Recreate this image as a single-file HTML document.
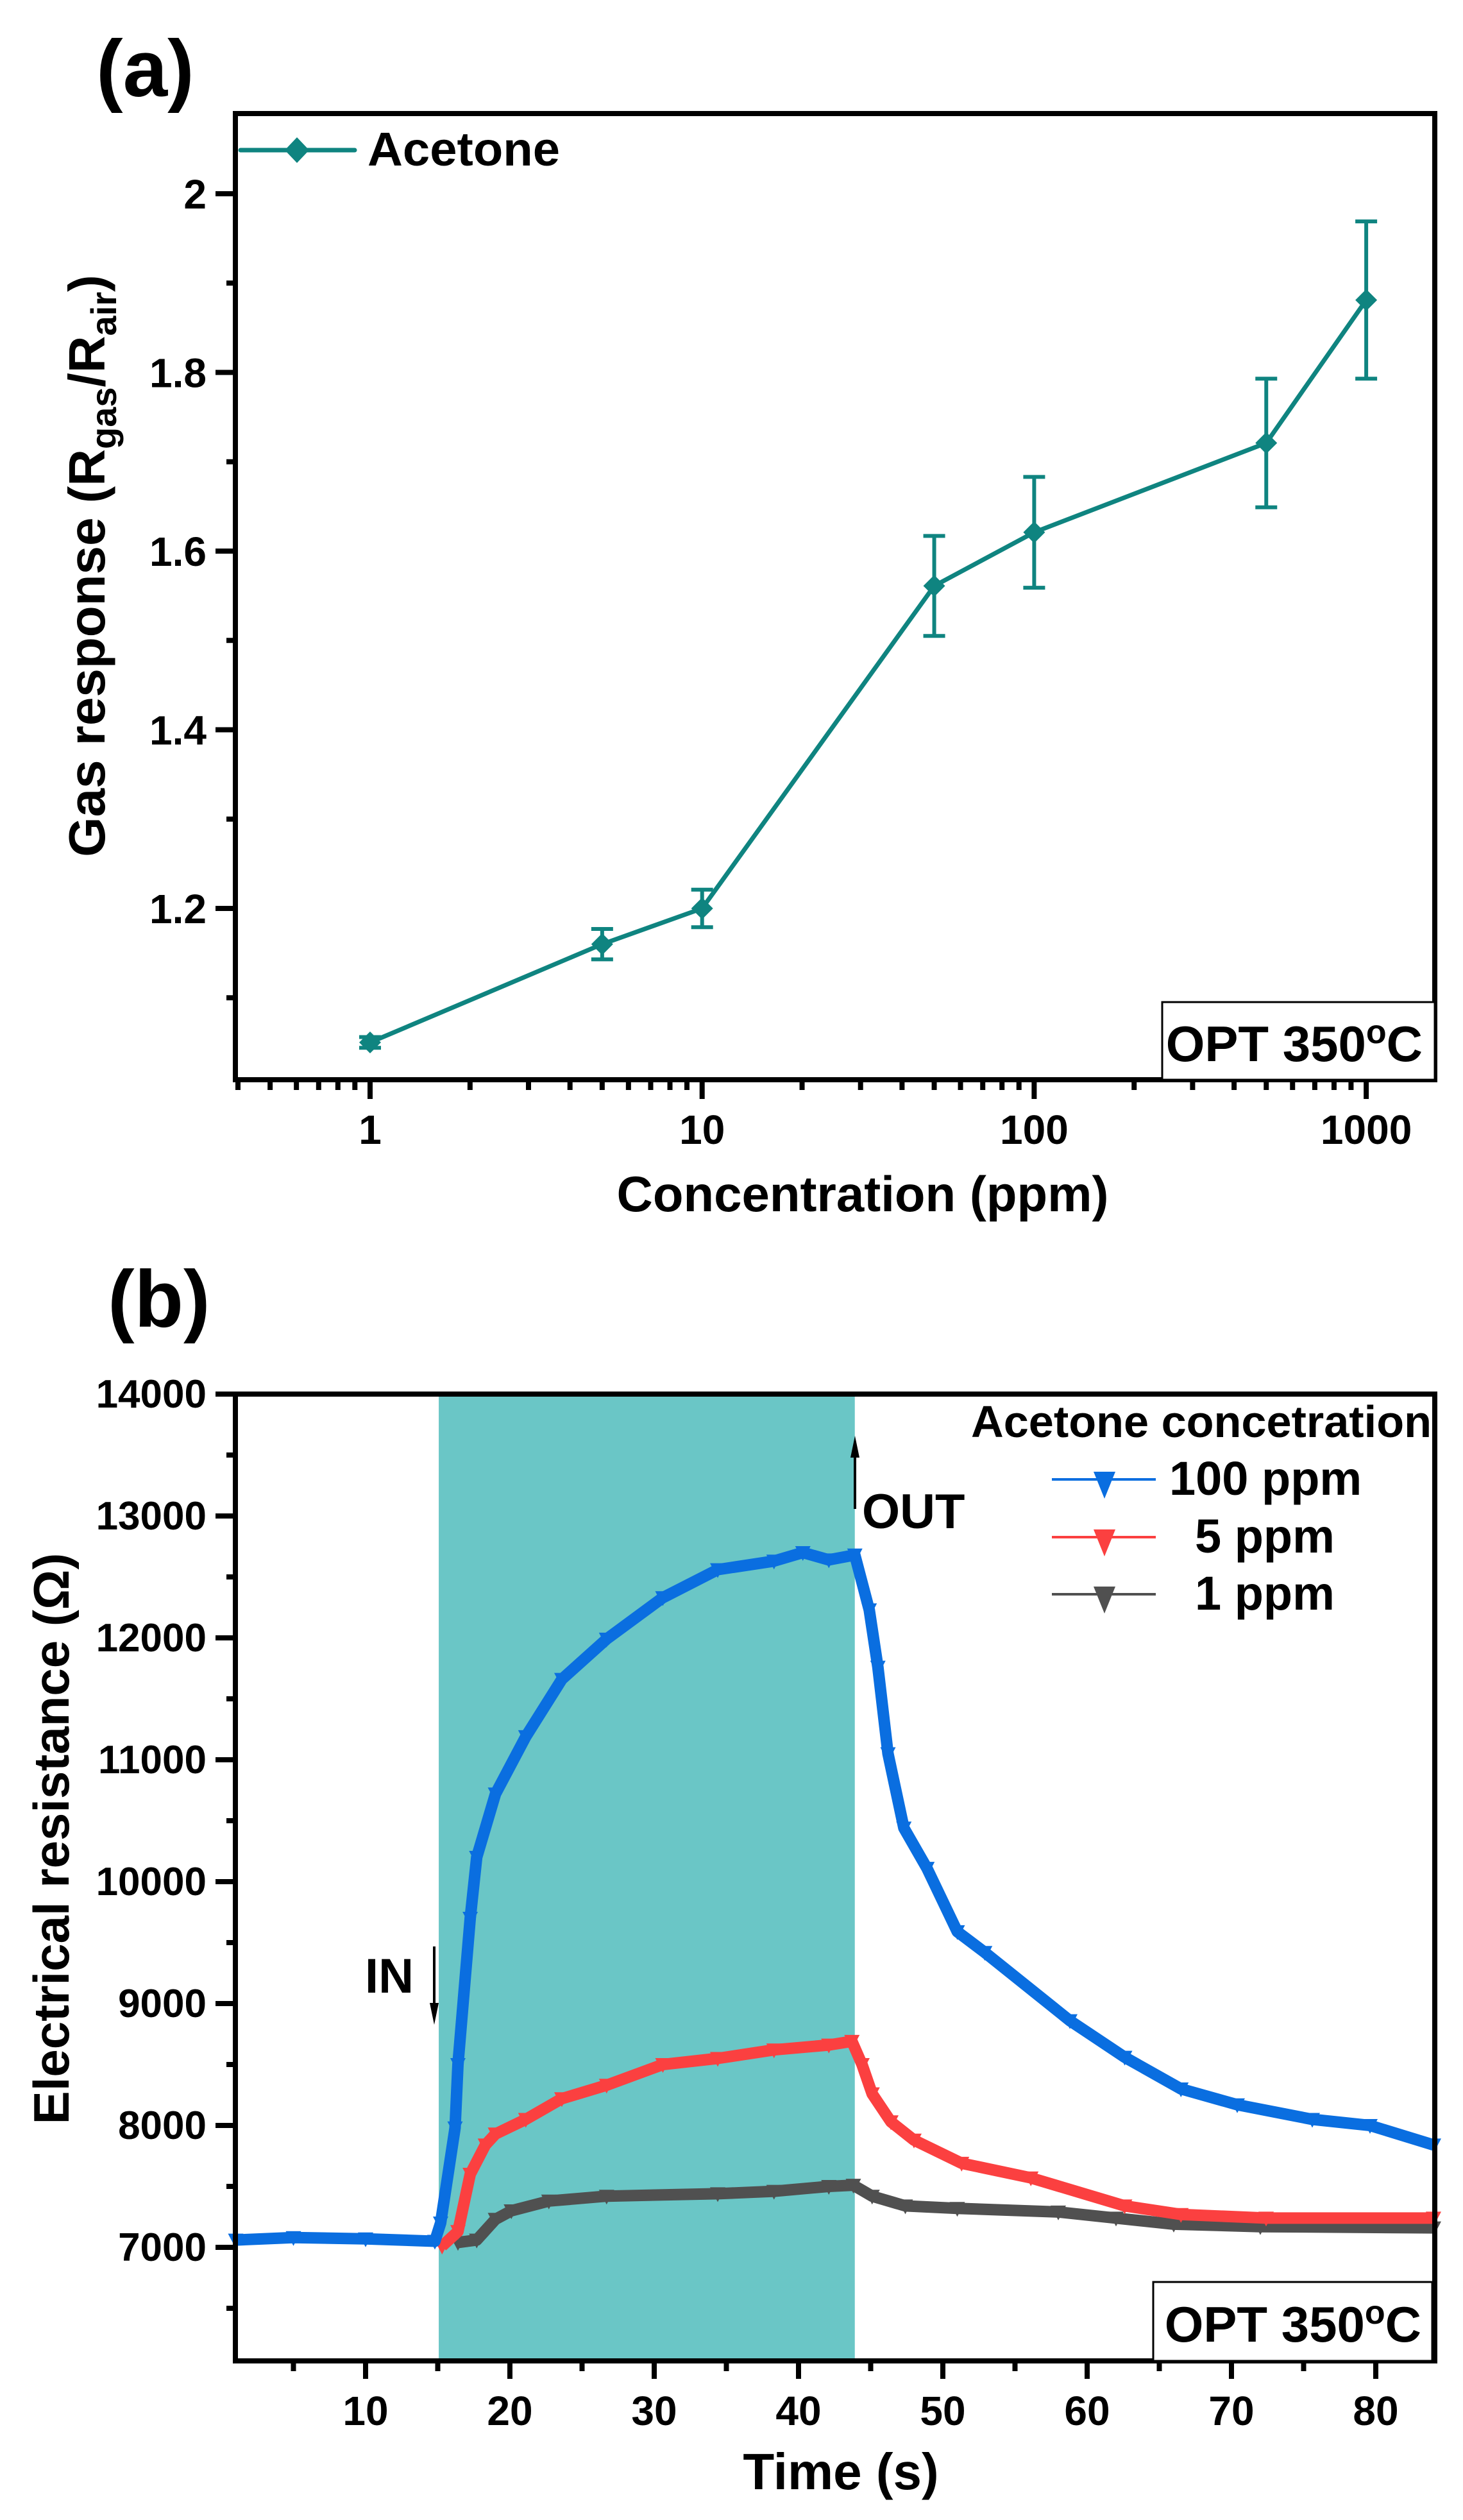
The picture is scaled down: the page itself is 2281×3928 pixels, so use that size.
<!DOCTYPE html>
<html><head><meta charset="utf-8"><style>
html,body{margin:0;padding:0;background:#fff}
svg{display:block;font-family:"Liberation Sans",Arial,sans-serif;font-weight:bold}
</style></head><body>
<svg id="fig" width="2281" height="3928" viewBox="0 0 2281 3928" xmlns="http://www.w3.org/2000/svg">
<rect x="0" y="0" width="2281" height="3928" fill="#fff"/>
<text x="150" y="150" font-size="125">(a)</text>
<text x="168" y="2068" font-size="125">(b)</text>
<g id="pa"></g>
<g id="pb"></g>
</svg>
<script>
// ---------- Panel (a) data ----------
const concA = [1, 5, 10, 50, 100, 500, 1000];
const respA = [1.05, 1.16, 1.20, 1.561, 1.621, 1.721, 1.881];
const errA  = [0.006, 0.017, 0.021, 0.056, 0.062, 0.072, 0.088];
const yTicksA = [1.2, 1.4, 1.6, 1.8, 2];
const xTicksA = [1, 10, 100, 1000];

// ---------- Panel (b) data ----------
const tBlue = [1, 5, 10, 14.8, 15.2, 16.2, 16.4, 17.25, 17.7, 19.0, 21.1, 23.6, 26.7, 30.6, 34.4, 38.3, 40.3, 42.1, 43.9, 44.9, 45.5, 46.2, 47.3, 48.9, 51.0, 52.9, 58.8, 62.6, 66.5, 70.4, 75.6, 79.6, 84];
const rBlue = [7060, 7080, 7070, 7050, 7200, 7980, 8500, 9700, 10200, 10720, 11190, 11660, 11990, 12330, 12560, 12630, 12700, 12640, 12680, 12230, 11760, 11050, 10440, 10110, 9590, 9420, 8860, 8560, 8300, 8170, 8050, 8000, 7840];
const tRed = [15.3, 16.4, 17.25, 18.3, 19.0, 21.1, 23.6, 26.7, 30.6, 34.4, 38.3, 42.1, 43.7, 44.4, 45.1, 46.4, 48.0, 51.3, 56.1, 62.6, 66.5, 72.4, 84];
const rRed = [7010, 7130, 7600, 7840, 7930, 8050, 8220, 8330, 8500, 8550, 8620, 8660, 8690, 8500, 8260, 8030, 7880, 7690, 7570, 7340, 7270, 7240, 7240];
const tGrey = [16.4, 17.7, 19.0, 20.1, 22.7, 26.7, 34.4, 38.3, 42.1, 43.8, 45.1, 47.4, 51, 58, 62, 66, 72, 84];
const rGrey = [7040, 7060, 7230, 7300, 7380, 7420, 7440, 7460, 7500, 7510, 7420, 7340, 7320, 7290, 7240, 7190, 7170, 7160];
const yTicksB = [7000, 8000, 9000, 10000, 11000, 12000, 13000, 14000];
const xTicksB = [10, 20, 30, 40, 50, 60, 70, 80];
const gasIn = 15.07, gasOut = 43.9;

const NS = "http://www.w3.org/2000/svg";
function mk(parent, tag, attrs, text){
  const e = document.createElementNS(NS, tag);
  for (const k in attrs) e.setAttribute(k, attrs[k]);
  if (text !== undefined) e.textContent = text;
  parent.appendChild(e);
  return e;
}

// ===== Panel (a) =====
(function(){
  const g = document.getElementById('pa');
  const L=367,R=2237,T=177,B=1683;
  const xA = c => 577 + Math.log10(c)*517.7;
  const yA = v => 302 + (2 - v)*1392.5;
  for (const v of yTicksA){
    const t = mk(g,'line',{x1:336,x2:L,y1:yA(v),y2:yA(v),stroke:'#000','stroke-width':8});
    
    
    const lb = mk(g,'text',{x:322,y:yA(v)+23,'font-size':64,'text-anchor':'end'}, String(v));
    
    
  }
  for (let v=1.1; v<2.05; v+=0.2){
    const t = mk(g,'line',{x1:353,x2:L,y1:yA(v),y2:yA(v),stroke:'#000','stroke-width':8});
    
    
  }
  for (let d=-1; d<=3; d++){
    for (let m=1; m<=9; m++){
      const c = m*Math.pow(10,d), x = xA(c);
      if (x < L+2 || x > R-2) continue;
      const major = m===1;
      const t = mk(g,'line',{x1:x,x2:x,y1:B,y2:B+(major?30:16),stroke:'#000','stroke-width':8});
      
      
    }
  }
  for (const c of xTicksA){
    const lb = mk(g,'text',{x:xA(c),y:1783,'font-size':64,'text-anchor':'middle'}, String(c));
    
    
  }
  const pts = concA.map((c,i)=>xA(c)+','+yA(respA[i])).join(' ');
  const pl = mk(g,'polyline',{points:pts,fill:'none',stroke:'#0f8480','stroke-width':7});
  
  
  concA.forEach((c,i)=>{
    const x=xA(c), y=yA(respA[i]), y1=yA(respA[i]+errA[i]), y2=yA(respA[i]-errA[i]);
    const eb = mk(g,'path',{d:`M${x},${y1}V${y2}M${x-17},${y1}H${x+17}M${x-17},${y2}H${x+17}`,stroke:'#0f8480','stroke-width':6,fill:'none'});
    
    
    const dm = mk(g,'polygon',{points:`${x},${y-17} ${x+17},${y} ${x},${y+17} ${x-17},${y}`,fill:'#0f8480'});
    
    
  });
  const fr = mk(g,'rect',{x:L,y:T,width:R-L,height:B-T,fill:'none',stroke:'#000','stroke-width':8});
  
  
  const lg = mk(g,'g',{});
  
  
  mk(lg,'line',{x1:375,x2:553,y1:234,y2:234,stroke:'#0f8480','stroke-width':7,'stroke-linecap':'round'});
  mk(lg,'polygon',{points:'463,214 482,234 463,254 444,234',fill:'#0f8480'});
  mk(lg,'text',{x:573,y:258,'font-size':74,textLength:300,lengthAdjust:'spacingAndGlyphs'}, 'Acetone');
  const ob = mk(g,'rect',{x:1812,y:1562,width:R-1812,height:B-1562,fill:'#fff',stroke:'#000','stroke-width':3});
  
  
  const ot = mk(g,'text',{x:2218,y:1654,'font-size':78,'text-anchor':'end'});
  
  
  ot.innerHTML = 'OPT 350<tspan dy="-28" font-size="52">o</tspan><tspan dy="28">C</tspan>';
  const xt = mk(g,'text',{x:1345,y:1888,'font-size':78,'text-anchor':'middle'}, 'Concentration (ppm)');
  
  
  const yt = mk(g,'text',{x:0,y:0,'font-size':80,'text-anchor':'middle',transform:'translate(163,882) rotate(-90)'});
  
  
  yt.innerHTML = 'Gas response (R<tspan dy="18" font-size="56">gas</tspan><tspan dy="-18">/R</tspan><tspan dy="18" font-size="56">air</tspan><tspan dy="-18">)</tspan>';
})();

// ===== Panel (b) =====
(function(){
  const g = document.getElementById('pb');
  const L=367,R=2237,T=2173,B=3680;
  const xB = t => 2145 + (t-80)*22.5;
  const yB = v => 2173 + (14000 - v)*0.19;
  const sh = mk(g,'rect',{x:xB(gasIn),y:T,width:xB(gasOut)-xB(gasIn),height:B-T,fill:'#6ac6c6'});
  
  
  for (const v of yTicksB){
    const t = mk(g,'line',{x1:336,x2:L,y1:yB(v),y2:yB(v),stroke:'#000','stroke-width':8});
    
    
    const lb = mk(g,'text',{x:322,y:yB(v)+21,'font-size':62,'text-anchor':'end'}, String(v));
    
    
  }
  for (let v=6500; v<14000; v+=1000){
    const t = mk(g,'line',{x1:353,x2:L,y1:yB(v),y2:yB(v),stroke:'#000','stroke-width':8});
    
    
  }
  for (const v of xTicksB){
    const t = mk(g,'line',{x1:xB(v),x2:xB(v),y1:B,y2:B+28,stroke:'#000','stroke-width':8});
    
    
    const lb = mk(g,'text',{x:xB(v),y:3780,'font-size':64,'text-anchor':'middle'}, String(v));
    
    
  }
  for (let v=5; v<84; v+=10){
    const t = mk(g,'line',{x1:xB(v),x2:xB(v),y1:B,y2:B+16,stroke:'#000','stroke-width':8});
    
    
  }
  function series(ts, rs, color, name, w){
    const sg = mk(g,'g',{});
    
    
    mk(sg,'polyline',{points:ts.map((t,i)=>xB(t)+','+yB(rs[i])).join(' '),fill:'none',stroke:color,'stroke-width':w,'stroke-linejoin':'round'});
    ts.forEach((t,i)=>{
      const x=xB(t), y=yB(rs[i]);
      const m = mk(sg,'polygon',{points:`${x-12},${y-10} ${x+12},${y-10} ${x},${y+13}`,fill:color});
      
      
    });
  }
  series(tGrey, rGrey, '#505050', 'series-1ppm', 18);
  series(tRed, rRed, '#fb4040', 'series-5ppm', 18);
  series(tBlue, rBlue, '#0a6ee0', 'series-100ppm', 18);
  const fr = mk(g,'rect',{x:L,y:T,width:R-L,height:B-T,fill:'none',stroke:'#000','stroke-width':8});
  
  
  const ia = mk(g,'g',{});
  
  
  mk(ia,'line',{x1:677,x2:677,y1:3034,y2:3130,stroke:'#000','stroke-width':4});
  mk(ia,'polygon',{points:'670,3122 684,3122 677,3156',fill:'#000'});
  mk(ia,'text',{x:645,y:3106,'font-size':76,'text-anchor':'end'},'IN');
  const oa = mk(g,'g',{});
  
  
  mk(oa,'line',{x1:1333,x2:1333,y1:2352,y2:2262,stroke:'#000','stroke-width':4});
  mk(oa,'polygon',{points:'1326,2272 1340,2272 1333,2238',fill:'#000'});
  mk(oa,'text',{x:1344,y:2382,'font-size':76},'OUT');
  const lg = mk(g,'g',{});
  
  
  mk(lg,'text',{x:2232,y:2240,'font-size':70,'text-anchor':'end',textLength:718,lengthAdjust:'spacingAndGlyphs'},'Acetone concetration');
  const ent = [['#0a6ee0','100 ppm',1823,2306],['#fb4040','5 ppm',1863,2396],['#505050','1 ppm',1863,2485]];
  ent.forEach(e=>{
    const eg = mk(lg,'g',{});
    
    
    mk(eg,'line',{x1:1640,x2:1802,y1:e[3],y2:e[3],stroke:e[0],'stroke-width':4});
    mk(eg,'polygon',{points:`1705,${e[3]-12} 1739,${e[3]-12} 1722,${e[3]+30}`,fill:e[0]});
    mk(eg,'text',{x:e[2],y:e[3]+24,'font-size':74},e[1]);
  });
  const ob = mk(g,'rect',{x:1798,y:3557,width:R-1798-4,height:B-3557,fill:'#fff',stroke:'#000','stroke-width':3});
  
  
  const ot = mk(g,'text',{x:2216,y:3650,'font-size':78,'text-anchor':'end'});
  
  
  ot.innerHTML = 'OPT 350<tspan dy="-28" font-size="52">o</tspan><tspan dy="28">C</tspan>';
  const xt = mk(g,'text',{x:1311,y:3880,'font-size':80,'text-anchor':'middle'},'Time (s)');
  
  
  const yt = mk(g,'text',{x:0,y:0,'font-size':78,'text-anchor':'middle',transform:'translate(107,2866) rotate(-90)'},'Electrical resistance (Ω)');
  
  
})();
</script>
</body></html>
